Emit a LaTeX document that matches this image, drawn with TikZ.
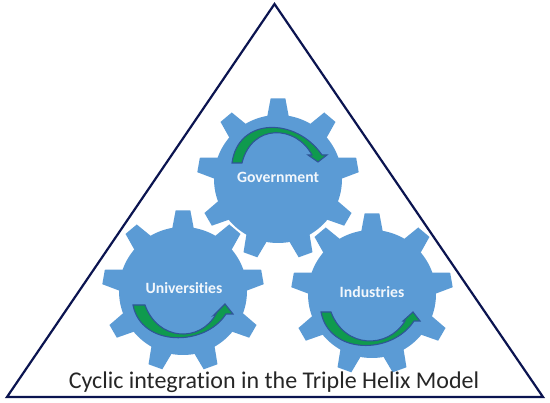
\documentclass[tikz,border=0pt]{standalone}
\usepackage{fontspec}
\setmainfont[Ligatures=NoCommon]{Carlito}
\definecolor{gearblue}{HTML}{5B9BD5}
\definecolor{linenavy}{HTML}{0B1450}
\definecolor{arrowgreen}{HTML}{0F9A4E}
\definecolor{arrowedge}{HTML}{2F5597}
\tikzset{
  gearfill/.style={fill=gearblue,draw=none},
  gearlabel/.style={text=white!92!gearblue,font=\bfseries\fontsize{15.7}{18}\selectfont,inner sep=0pt},
  bendarrow/.style={fill=arrowgreen,draw=arrowedge,line width=1.1pt,line join=miter},
  frame/.style={draw=linenavy,line width=2.2pt,line join=miter},
  caption/.style={text=black!85,font=\fontsize{24}{28}\selectfont,inner sep=0pt,anchor=base}
}
\newcommand{\gearshape}[2]{%
  \fill[gearfill] (#1,#2) circle[radius=64];
  \foreach \ang in {90,50,10,-30,-70,-110,-150,-190,-230} {
    \fill[gearfill]
      ({#1+60*cos(\ang+11)},{#2+60*sin(\ang+11)})
      -- ({#1+81*cos(\ang+5.2)},{#2+81*sin(\ang+5.2)})
      -- ({#1+81*cos(\ang-5.2)},{#2+81*sin(\ang-5.2)})
      -- ({#1+60*cos(\ang-11)},{#2+60*sin(\ang-11)}) -- cycle;
  }
}
\begin{document}
\begin{tikzpicture}[x=1pt,y=1pt]
\useasboundingbox (0,0) rectangle (550,403);
\fill[white] (0,0) rectangle (550,403);
\coordinate (apex) at (274.5,399);
\coordinate (bl) at (7,6);
\coordinate (br) at (543,6);
\draw[frame] (apex) -- (bl) -- (br) -- cycle;
\gearshape{278}{224}
\gearshape{183}{112}
\gearshape{372}{109}
\draw[bendarrow] (232,240) .. controls (238,286) and (296,286) .. (322,248)
  -- (327,248) -- (318,241) -- (308,248) -- (312,248)
  .. controls (296,278) and (252,280) .. (242,240) -- cycle;
\draw[bendarrow] (133,98) .. controls (141,56) and (205,56) .. (226,89)
  -- (233,89) -- (225,99) -- (214,88) -- (216,89)
  .. controls (200,60) and (158,62) .. (145,98) -- cycle;
\draw[bendarrow] (321,91) .. controls (329,48) and (392,48) .. (414,82)
  -- (420,82) -- (413,91) -- (403,82) -- (405,82)
  .. controls (388,54) and (345,54) .. (331,91) -- cycle;
\node[gearlabel] (gov) at (278,226) {Government};
\node[gearlabel] (uni) at (184,115) {Universities};
\node[gearlabel] (ind) at (372,111) {Industries};
\node[caption] (cap) at (274,14) {Cyclic integration in the Triple Helix Model};
\end{tikzpicture}
\end{document}
